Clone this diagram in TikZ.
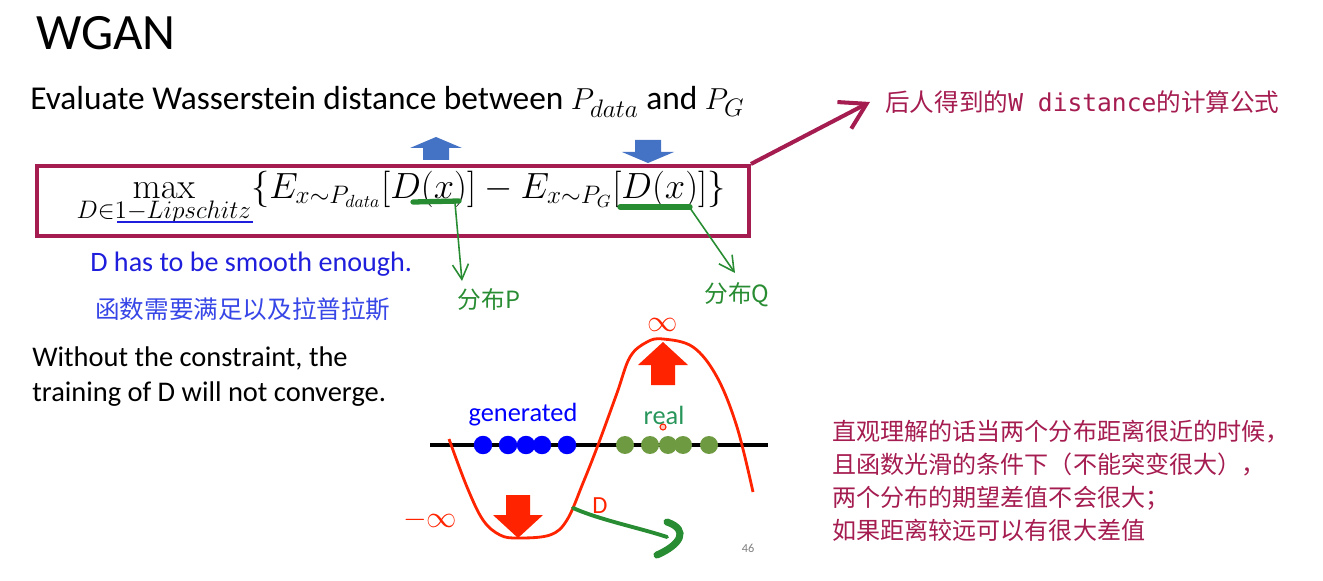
\documentclass[tikz,border=0pt]{standalone}
\usepackage[no-math]{fontspec}
\setmainfont{Carlito}
\setmonofont{DejaVu Sans Mono}
\newfontfamily\cjk{Noto Sans CJK SC}
\usetikzlibrary{positioning,arrows.meta}
\definecolor{crimson}{RGB}{165,28,80}
\definecolor{txtblue}{RGB}{30,30,220}
\definecolor{cjkblue}{RGB}{55,70,230}
\definecolor{officeblue}{RGB}{68,114,196}
\definecolor{pengreen}{RGB}{40,140,50}
\definecolor{dotgreen}{RGB}{110,155,65}
\definecolor{realgreen}{RGB}{40,150,90}
\definecolor{curvered}{RGB}{255,35,0}

\begin{document}
\begin{tikzpicture}[x=0.02cm,y=-0.02cm,
  txt/.style={anchor=base west, inner sep=0pt},
  pen/.style={draw=pengreen, line width=0.9pt, -{Straight Barb[length=3mm,width=3.2mm]}},
  bdot/.style={circle, fill=blue, inner sep=0pt, minimum size=0.37cm},
  gdot/.style={circle, fill=dotgreen, inner sep=0pt, minimum size=0.36cm},
  redtxt/.style={text=curvered, inner sep=0pt}]
\useasboundingbox (0,0) rectangle (1323,581);
% title and first line
\node[txt, font=\fontsize{29}{35}\selectfont] (title) at (36,50) {WGAN};
\node[txt, font=\fontsize{19}{23}\selectfont] (evaluate) at (30,110)
  {Evaluate Wasserstein distance between $P_{data}$ and $P_G$};
% formula box
\node[draw=crimson, line width=2.3pt, minimum width=14.24cm, minimum height=1.4cm] (fbox) at (393,201) {};
\node[inner sep=0pt, font=\fontsize{20.2}{24}\selectfont] (formula) at (401,198)
  {$\max\limits_{D\in 1-Lipschitz}\Bigl\{E_{x\sim P_{data}}[D(x)]-E_{x\sim P_G}[D(x)]\Bigr\}$};
\draw[txtblue, line width=1.6pt] (117,222) -- (253,222);
\fill[officeblue] (423,160) -- (423,148) -- (410,148) -- (436,137) -- (462,148) -- (449,148) -- (449,160) -- cycle;
\fill[officeblue] (635,140) -- (635,152) -- (622,152) -- (648,163) -- (674,152) -- (661,152) -- (661,140) -- cycle;
% green notes
\coordinate (ulP) at (455,203);
\coordinate (ulQ) at (690,208);
\draw[pengreen, line width=3pt, line cap=round] (413,202) -- (459,201);
\draw[pengreen, line width=3pt, line cap=round] (620,207) -- (690,207);
\node[font=\cjk\fontsize{13.5}{16}\selectfont, text=pengreen, inner sep=1pt] (distP) at (489,300) {分布P};
\node[font=\cjk\fontsize{13.5}{16}\selectfont, text=pengreen, inner sep=1pt] (distQ) at (737,295) {分布Q};
\draw[pen] (ulP) -- (462,281);
\draw[pen] (ulQ) -- (735,273);
% crimson note
\node[anchor=west, inner sep=0pt, text=crimson, font=\cjk\fontsize{14}{17}\selectfont] (wnote) at (885,102)
  {后人得到的\texttt{W distance}的计算公式};
\draw[crimson, line width=2.3pt, -{Straight Barb[length=5mm,width=6mm]}] (fbox.north east) -- ([xshift=-0.3cm]wnote.west);
% left texts
\node[txt, text=txtblue, font=\fontsize{16}{19}\selectfont] (smooth) at (90,272) {D has to be smooth enough.};
\node[anchor=west, inner sep=0pt, text=cjkblue, font=\cjk\fontsize{14}{17}\selectfont] (lips) at (95,309) {函数需要满足以及拉普拉斯};
\node[txt, font=\fontsize{16.2}{19}\selectfont] (without) at (32,366) {Without the constraint, the};
\node[txt, font=\fontsize{16.2}{19}\selectfont] (training) at (32,401) {training of D will not converge.};
% right texts
\node[anchor=north west, inner sep=0pt, align=left, text=crimson, font=\cjk\fontsize{13.7}{18.8}\selectfont] (intuition) at (832,420)
  {直观理解的话当两个分布距离很近的时候，\\
   且函数光滑的条件下（不能突变很大），\\
   两个分布的期望差值不会很大；\\
   如果距离较远可以有很大差值};
% sample axis
\coordinate (axl) at (430,445);
\coordinate (axr) at (768,445);
\draw[line width=2.8pt] (axl) -- (axr);
\foreach \x in {483,508,526,542,567} \node[bdot] at (\x,445) {};
\foreach \x in {625,650,668,683,709} \node[gdot] at (\x,445) {};
\node[text=blue, font=\fontsize{15}{18}\selectfont, inner sep=0pt] (gen) at (523,415) {generated};
\node[text=realgreen, font=\fontsize{15}{18}\selectfont, inner sep=0pt] (real) at (664,415) {real};
\draw[curvered, line width=0.6pt, fill=curvered!25] (663,427) circle (3);
% critic curve D
\draw[curvered, line width=1.6pt] plot[smooth, tension=0.6] coordinates {(449,439) (467,487) (483,520) (500,535) (518,538) (550,535) (567,520) (583,483) (598,445) (617,393) (630,357) (647,342) (663,339) (693,347) (717,377) (737,427) (753,492)};
\fill[curvered] (651,385) -- (651,365) -- (638,365) -- (663,342) -- (688,365) -- (675,365) -- (675,385) -- cycle;
\fill[curvered] (506,495) -- (506,515) -- (493,515) -- (518,538) -- (543,515) -- (530,515) -- (530,495) -- cycle;
\node[redtxt, font=\fontsize{17}{20}\selectfont] (pinf) at (663,325) {$\infty$};
\node[redtxt, font=\fontsize{17}{20}\selectfont] (ninf) at (430,520) {$-\infty$};
\node[redtxt, font=\fontsize{14}{17}\selectfont] (dlabel) at (600,506) {D};
\coordinate (dfrom) at (573,508);
\coordinate (dto) at (667,537);
\draw[pengreen, line width=2.2pt, line cap=round] (dfrom) .. controls (600,520) and (640,528) .. (dto);
\draw[pengreen, line width=4pt, line cap=round] (667,522) .. controls (690,530) and (680,545) .. (657,555);
\node[text=gray, font=\fontsize{7}{8}\selectfont] (page) at (748,548) {46};
\end{tikzpicture}
\end{document}
